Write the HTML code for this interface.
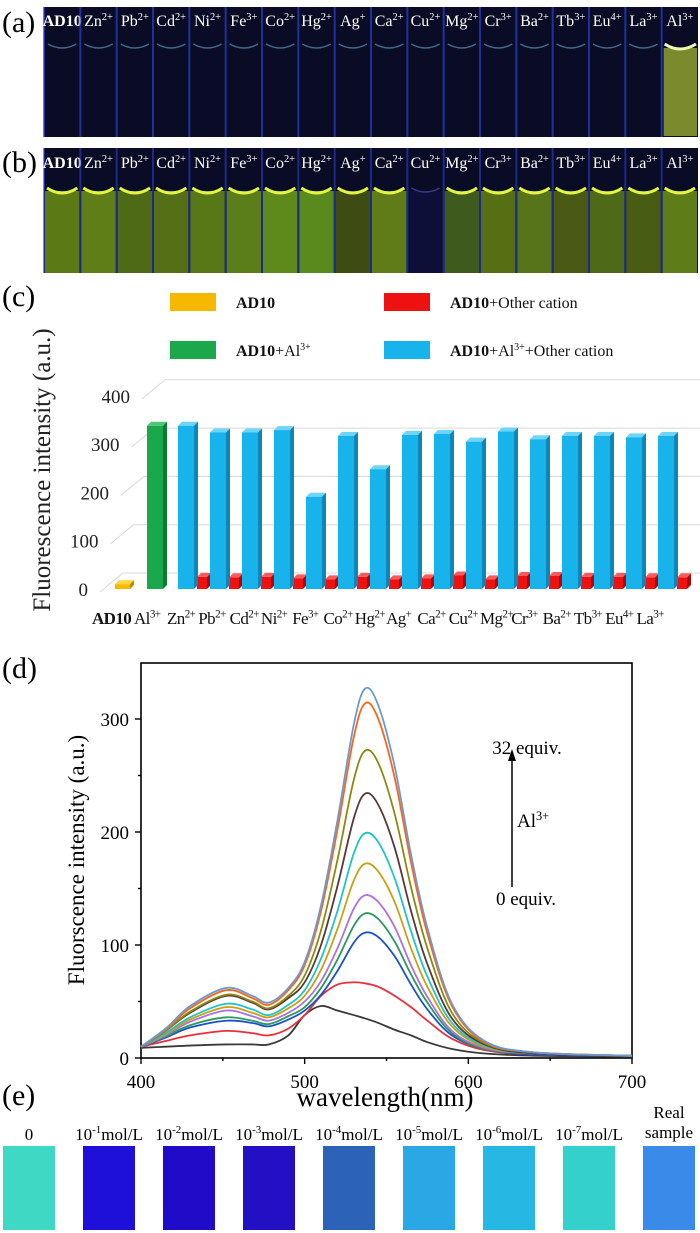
<!DOCTYPE html>
<html><head><meta charset="utf-8"><style>
html,body{margin:0;padding:0;background:#fff;}
svg{display:block;font-family:"Liberation Serif",serif;}
</style></head><body>
<svg id="fig" width="700" height="1233" viewBox="0 0 700 1233" xmlns="http://www.w3.org/2000/svg">
<g id="pa"></g>
<g id="pb"></g>
<text x="2" y="32" font-size="30">(a)</text>
<text x="2" y="172" font-size="30">(b)</text>
<text x="2" y="306" font-size="30">(c)</text>
<text x="2" y="678" font-size="30">(d)</text>
<text x="2" y="1105" font-size="30">(e)</text>
<g id="legend"></g>
<g id="pc"></g>
<g id="pd"></g>
<g id="pe"></g>
</svg>
<script>
const NS="http://www.w3.org/2000/svg";
function mk(tag,attrs,parent){const e=document.createElementNS(NS,tag);for(const k in attrs)e.setAttribute(k,attrs[k]);parent.appendChild(e);return e;}
function ionText(parent,x,y,base,sup,size,fill,anchor,bold){
  const t=mk('text',{x:x,y:y,'font-size':size,fill:fill,'text-anchor':anchor||'middle'},parent);
  if(bold)t.setAttribute('font-weight','bold');
  const a=mk('tspan',{},t);a.textContent=base;
  if(sup){const s=mk('tspan',{'font-size':size*0.65,dy:-size*0.38},t);s.textContent=sup;}
  return t;
}
// ---------- panels a & b ----------
const ionBase=["AD10","Zn","Pb","Cd","Ni","Fe","Co","Hg","Ag","Ca","Cu","Mg","Cr","Ba","Tb","Eu","La","Al"];
const ionSup=["","2+","2+","2+","2+","3+","2+","2+","+","2+","2+","2+","3+","2+","3+","4+","3+","3+"];
const bColors=["#5b7a16","#5f7e18","#4e6a16","#556f16","#587818","#5b7e1a","#5e8a1c","#5a8a1e","#3e4c14","#5f7c18","#0d0f38","#3e5a1c","#566e14","#57741a","#4a5a14","#4e6a18","#485c14","#5e7c18"];
(function(){
  const pa=document.getElementById('pa'),pb=document.getElementById('pb');
  mk('rect',{x:44,y:7,width:654,height:130,fill:'#0a0c26'},pa);
  mk('rect',{x:44,y:148,width:654,height:125,fill:'#0a0c26'},pb);
  const w=654/18;
  for(let i=0;i<18;i++){
    const x=44+i*w;
    if(i===17){mk('rect',{x:x+2,y:48,width:w-3,height:88,fill:'#7a8a2c'},pa);
      mk('path',{d:`M${x+3} 44 Q${x+w/2} 54 ${x+w-2} 44`,stroke:'#f2f7b0',fill:'none','stroke-width':3},pa);}
    else mk('path',{d:`M${x+4} 44 Q${x+w/2} 52 ${x+w-4} 44`,stroke:'#3f6a8a',fill:'none','stroke-width':1.5},pa);
    const la=mk('rect',{x:x-1,y:7,width:2,height:130,fill:'#2a40d0',opacity:0.7},pa);
    
    
    const ta=ionText(pa,x+w/2,26,ionBase[i],ionSup[i],16,'#fff','middle',i===0);
    
    
    const cb=mk('rect',{x:x+1,y:191,width:w-2,height:82,fill:bColors[i]},pb);
    
    
    if(i!==10)mk('path',{d:`M${x+3} 188 Q${x+w/2} 198 ${x+w-3} 188`,stroke:'#e2f545',fill:'none','stroke-width':3},pb);
    else mk('path',{d:`M${x+4} 188 Q${x+w/2} 196 ${x+w-4} 188`,stroke:'#3a3a8a',fill:'none','stroke-width':1.5},pb);
    mk('rect',{x:x-1,y:148,width:2,height:125,fill:'#2a40d0',opacity:0.6},pb);
    const tb=ionText(pb,x+w/2,168,ionBase[i],ionSup[i],16,'#fff','middle',i===0);
    
    
  }
})();
// ---------- panel c data ----------
const cCats=["Zn","Pb","Cd","Ni","Fe","Co","Hg","Ag","Ca","Cu","Mg","Cr","Ba","Tb","Eu","La"];
const cSups=["2+","2+","2+","2+","3+","2+","2+","+","2+","2+","2+","3+","2+","3+","4+","3+"];
const blueVals=[338,324,324,329,191,317,248,319,321,305,326,310,317,317,314,317];
const redVals=[25,24,25,22,20,25,20,22,28,20,27,27,25,25,24,24];
const ad10Val=[10];
const alVal=[338];
const cTicks=[0,100,200,300,400];
(function(){
  const g=document.getElementById('pc');
  const y0=589,k=0.483;
  const Y=v=>y0-v*k;
  cTicks.forEach(v=>{
    const dx=v/400*42, yf=Y(v);
    const p=mk('polyline',{points:`${100+dx},${yf+3} ${123+dx},${yf-16} 700,${yf-16}`,fill:'none',stroke:'#d9d9d9','stroke-width':1},g);
    
    
    const t=mk('text',{x:88+dx,y:yf+7,'font-size':19,'text-anchor':'end',fill:'#222'},g);
    t.textContent=v;
    
    
  });
  const yt=mk('text',{x:0,y:0,'font-size':25,'text-anchor':'middle',fill:'#222',transform:'translate(50,470) rotate(-90)'},g);
  yt.textContent='Fluorescence  intensity  (a.u.)';
  
  
  function bar(x,w,v,c,name){
    const d=4,top=Y(v),bot=y0;
    const b=mk('g',{},g);
    
    
    mk('polygon',{points:`${x},${top} ${x+d},${top-d} ${x+w+d},${top-d} ${x+w},${top}`,fill:c[2]},b);
    mk('polygon',{points:`${x+w},${top} ${x+w+d},${top-d} ${x+w+d},${bot-d} ${x+w},${bot}`,fill:c[1]},b);
    mk('rect',{x:x,y:top,width:w,height:bot-top,fill:c[0]},b);
  }
  const BL=['#18b2ec','#0d86b8','#6dd5f7'],RD=['#ee1111','#a80a0a','#ff5a5a'],GR=['#1aa84b','#0d7a33','#4cc974'],YL=['#f7b900','#c08800','#ffd84a'];
  bar(115,15,ad10Val[0],YL,'bar-ad10');
  bar(147,16,alVal[0],GR,'bar-al');
  cCats.forEach((c,i)=>{
    const x=178+i*32;
    bar(x+19,10,redVals[i],RD,'bar-red-'+c.toLowerCase());
    bar(x,16,blueVals[i],BL,'bar-blue-'+c.toLowerCase());
  });
  const labs=[["AD10",""],["Al","3+"]].concat(cCats.map((c,i)=>[c,cSups[i]]));
  const lx=[92,134].concat(cCats.map((c,i)=>167+i*31.3));
  labs.forEach((l,i)=>{
    const t=ionText(g,lx[i],624,l[0],l[1],17,'#111','start',i===0);
    t.setAttribute('letter-spacing','-0.6');
    
    
  });
  const L=document.getElementById('legend');
  const items=[[170,302,'#f7b900','AD10',''],[384,302,'#ee1111','AD10','+Other cation'],[170,350,'#1aa84b','AD10','+Al'],[384,350,'#18b2ec','AD10','+Al']];
  items.forEach((it,i)=>{
    const r=mk('rect',{x:it[0],y:it[1]-9,width:46,height:18,fill:it[2]},L);
    
    
    const t=mk('text',{x:it[0]+66,y:it[1]+6,'font-size':16,fill:'#111'},L);
    
    
    const a=mk('tspan',{'font-weight':'bold'},t);a.textContent=it[3];
    if(i<2){if(it[4]){const b=mk('tspan',{},t);b.textContent=it[4];}}
    else{const b=mk('tspan',{},t);b.textContent='+Al';const s=mk('tspan',{'font-size':10,dy:-6},t);s.textContent='3+';
      if(i===3){const c=mk('tspan',{dy:6},t);c.textContent='+Other cation';}}
  });
})();
// ---------- panel d data ----------
const wl=[400,415,430,452,468,478,490,500,510,520,530,537,545,555,565,575,590,610,640,700];
const s0=[9,10,11,12,12,12,20,38,46,42,38,35,31,25,20,14,8,4,2,1];
const s1=[10,15,20,24,22,20,26,38,55,65,67,66,63,55,45,33,17,7,3,2];
const s2=[10,18,27,33,31,28,34,42,56,77,102,111,107,90,65,43,20,8,3,2];
const s3=[10,19,29,36,33,30,37,45,62,87,117,128,123,103,74,49,22,8,4,2];
const s4=[10,20,32,42,37,33,40,50,68,97,132,144,138,116,82,54,24,9,4,2];
const s5=[10,21,34,45,40,36,44,55,78,114,157,172,165,138,97,63,28,10,4,2];
const s6=[10,22,36,48,43,38,47,60,88,130,181,199,191,159,112,72,31,11,4,2];
const s7=[10,24,40,55,49,43,53,67,100,152,212,234,224,186,130,83,35,12,4,2];
const s8=[10,24,41,56,50,44,55,73,113,175,246,272,261,216,151,97,40,13,5,2];
const s9=[10,25,44,60,53,47,60,82,130,202,284,314,300,248,173,110,46,14,5,2];
const s10=[10,26,46,62,55,49,62,85,135,210,295,327,312,258,180,115,48,15,5,2];
const seriesList=[s0,s1,s2,s3,s4,s5,s6,s7,s8,s9,s10];
const seriesColors=['#3a3a3a','#e8303c','#1a52c8','#2a9a5c','#b070e0','#c9a012','#20c4c8','#5a3838','#8a8a12','#ff6412','#6a9ad6'];
const dYTicks=[0,100,200,300];
const dXTicks=[400,500,600,700];
(function(){
  const g=document.getElementById('pd');
  const L=141,R=632,T=663,B=1058;
  const X=v=>L+(v-400)/300*(R-L);
  const Y=v=>B-v*1.13;
  const fr=mk('rect',{x:L,y:T,width:R-L,height:B-T,fill:'none',stroke:'#000','stroke-width':1.6},g);
  
  
  for(let v=0;v<=340;v+=50){mk('line',{x1:L,x2:L-(v%100?3:6),y1:Y(v),y2:Y(v),stroke:'#000','stroke-width':1.4},g);}
  for(let v=400;v<=700;v+=50){mk('line',{x1:X(v),x2:X(v),y1:B,y2:B+(v%100?3:6),stroke:'#000','stroke-width':1.4},g);}
  dYTicks.forEach(v=>{const t=mk('text',{x:L-12,y:Y(v)+7,'font-size':19,'text-anchor':'end'},g);t.textContent=v;
    });
  dXTicks.forEach(v=>{const t=mk('text',{x:X(v),y:1088,'font-size':19,'text-anchor':'middle'},g);t.textContent=v;
    });
  const xt=mk('text',{x:385,y:1106,'font-size':27,'text-anchor':'middle'},g);xt.textContent='wavelength(nm)';
  
  const yt=mk('text',{x:0,y:0,'font-size':23,'text-anchor':'middle',transform:'translate(84,860) rotate(-90)'},g);
  yt.textContent='Fluorscence intensity (a.u.)';
  
  function path(vals){
    const P=vals.map((v,i)=>[X(wl[i]),Y(v)]);
    let d=`M${P[0][0]},${P[0][1]}`;
    for(let i=0;i<P.length-1;i++){
      const p0=P[Math.max(i-1,0)],p1=P[i],p2=P[i+1],p3=P[Math.min(i+2,P.length-1)];
      d+=` C${p1[0]+(p2[0]-p0[0])/6},${p1[1]+(p2[1]-p0[1])/6} ${p2[0]-(p3[0]-p1[0])/6},${p2[1]-(p3[1]-p1[1])/6} ${p2[0]},${p2[1]}`;
    }
    return d;
  }
  seriesList.forEach((s,i)=>{
    const p=mk('path',{d:path(s),fill:'none',stroke:seriesColors[i],'stroke-width':1.8},g);
    
    
  });
  const ar=mk('g',{},g);
  
  mk('line',{x1:512,x2:512,y1:887,y2:758,stroke:'#000','stroke-width':1.5},ar);
  mk('polygon',{points:'512,749 508,761 516,761',fill:'#000'},ar);
  const a1=mk('text',{x:527,y:754,'font-size':19,'text-anchor':'middle'},g);a1.textContent='32 equiv.';
  
  const a2=mk('text',{x:526,y:905,'font-size':19,'text-anchor':'middle'},g);a2.textContent='0 equiv.';
  
  const a3=ionText(g,517,827,'Al','3+',19,'#000','start');
  
})();
// ---------- panel e ----------
const eLabelsExp=["","-1","-2","-3","-4","-5","-6","-7",""];
const eColors=['#3ed8c4','#1e10d8','#200cc8','#2410c4','#2c62b8','#2aa8e6','#26b8e2','#34d0cc','#3a8aea'];
(function(){
  const g=document.getElementById('pe');
  eColors.forEach((c,i)=>{
    const x=3+i*80;
    const r=mk('rect',{x:x,y:1146,width:52,height:84,fill:c},g);
    
    
    let t;
    if(i===0){t=mk('text',{x:x+26,y:1140,'font-size':17,'text-anchor':'middle'},g);t.textContent='0';}
    else if(i===8){t=mk('text',{x:x+26,y:1118,'font-size':17,'text-anchor':'middle'},g);t.textContent='Real';
      const t2=mk('text',{x:x+26,y:1138,'font-size':17,'text-anchor':'middle'},g);t2.textContent='sample';
      }
    else{t=mk('text',{x:x+26,y:1140,'font-size':17,'text-anchor':'middle'},g);
      const a=mk('tspan',{},t);a.textContent='10';
      const s=mk('tspan',{'font-size':11,dy:-7},t);s.textContent=eLabelsExp[i];
      const b=mk('tspan',{dy:7},t);b.textContent='mol/L';}
    
    
  });
})();
</script>
</body></html>
